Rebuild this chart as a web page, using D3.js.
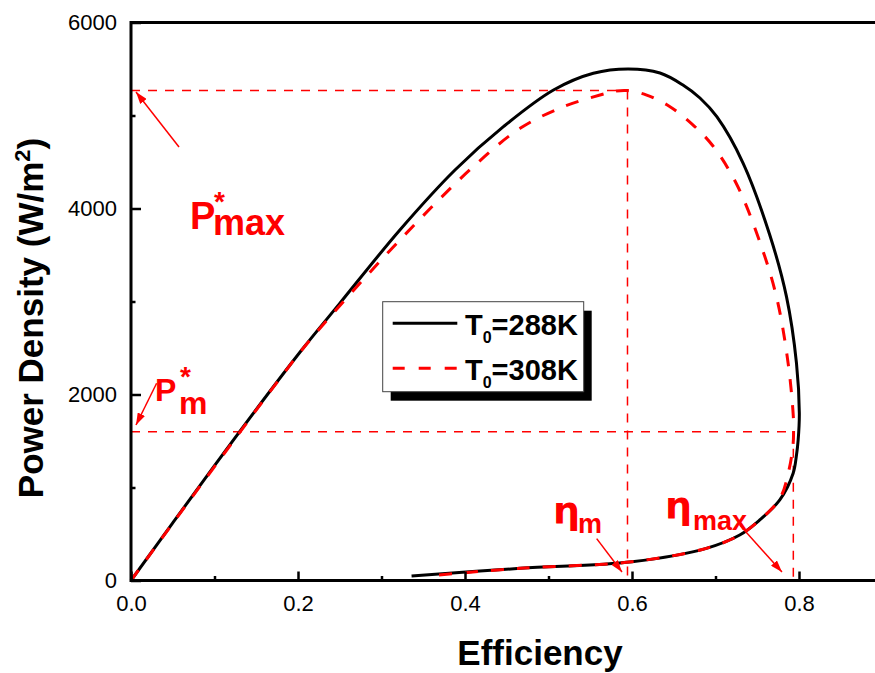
<!DOCTYPE html>
<html>
<head>
<meta charset="utf-8">
<script src="https://cdn.jsdelivr.net/npm/d3@7"></script>
<style>
  body { margin: 0; background: #fff; }
  svg { display: block; }
</style>
</head>
<body>
<svg id="chart" width="875" height="673"></svg>
<script>
// T0 = 288K curve (efficiency, power density W/m2)
const eta288 = [0, 0.05, 0.1, 0.15, 0.2044, 0.25, 0.322, 0.388, 0.446, 0.506, 0.5537, 0.5956, 0.6335, 0.661, 0.6814, 0.7018, 0.733, 0.765, 0.785, 0.797, 0.8004, 0.799, 0.797, 0.793, 0.777, 0.753, 0.729, 0.689, 0.6, 0.466, 0.336]
const power288 = [0, 620, 1235, 1840, 2478, 2980, 3769, 4414, 4880, 5274, 5454, 5500, 5457, 5328, 5188, 4984, 4489, 3715, 3052, 2335, 1798, 1511, 1350, 1153, 866, 651, 489, 346, 202, 131, 48]

// T0 = 308K curve
const eta308 = [0, 0.05, 0.1, 0.177, 0.2144, 0.322, 0.41, 0.466, 0.518, 0.5617, 0.58, 0.595, 0.6176, 0.6455, 0.6719, 0.697, 0.7246, 0.751, 0.773, 0.787, 0.7932, 0.7935, 0.793, 0.788, 0.777, 0.753, 0.729, 0.689, 0.6, 0.466, 0.362]
const power308 = [0, 615, 1225, 2156, 2586, 3661, 4450, 4862, 5095, 5220, 5262, 5268, 5220, 5095, 4908, 4672, 4274, 3694, 3052, 2335, 1761, 1600, 1475, 1188, 880, 651, 489, 346, 202, 131, 55]

// guide values
const pMaxStar = 5270
const pMStar = 1600
const etaM = 0.5946
const etaMax = 0.7932

// ticks
const xMajor = [0, 0.2, 0.4, 0.6, 0.8]
const xMinor = [0.1, 0.3, 0.5, 0.7]
const yMajor = [0, 2000, 4000, 6000]
const yMinor = [1000, 3000, 5000]

const red = '#ff0000'
const font = '"Liberation Sans", Arial, sans-serif'

const svg = d3.select('#chart')

const x = d3.scaleLinear().domain([0, 0.9]).range([131, 882.5])
const y = d3.scaleLinear().domain([0, 6000]).range([580.5, 22.5])

const defs = svg.append('defs')
defs
  .append('marker')
  .attr('id', 'arrow')
  .attr('viewBox', '0 0 12 8')
  .attr('refX', 12)
  .attr('refY', 4)
  .attr('markerWidth', 12)
  .attr('markerHeight', 8)
  .attr('markerUnits', 'userSpaceOnUse')
  .attr('orient', 'auto')
  .append('path')
  .attr('d', 'M0,0L12,4L0,8Z')
  .attr('fill', red)

// dashed guide lines
const guides = [
  [0, pMaxStar, etaM, pMaxStar],
  [etaM, pMaxStar, etaM, 0],
  [0, pMStar, etaMax, pMStar],
  [etaMax, pMStar, etaMax, 0],
]
svg
  .append('g')
  .selectAll('line')
  .data(guides)
  .join('line')
  .attr('x1', (d) => x(d[0]))
  .attr('y1', (d) => y(d[1]))
  .attr('x2', (d) => x(d[2]))
  .attr('y2', (d) => y(d[3]))
  .attr('stroke', red)
  .attr('stroke-width', 1.5)
  .attr('stroke-dasharray', '9,8')

// curves
const line = d3
  .line()
  .x((d) => x(d[0]))
  .y((d) => y(d[1]))
  .curve(d3.curveCatmullRom.alpha(0.5))

svg
  .append('path')
  .datum(d3.zip(eta288, power288))
  .attr('d', line)
  .attr('fill', 'none')
  .attr('stroke', '#000')
  .attr('stroke-width', 3)

svg
  .append('path')
  .datum(d3.zip(eta308, power308))
  .attr('d', line)
  .attr('fill', 'none')
  .attr('stroke', red)
  .attr('stroke-width', 3)
  .attr('stroke-dasharray', '13,13')

// frame
svg
  .append('rect')
  .attr('x', x(0))
  .attr('y', y(6000))
  .attr('width', x(0.9) - x(0))
  .attr('height', y(0) - y(6000))
  .attr('fill', 'none')
  .attr('stroke', '#000')
  .attr('stroke-width', 3)

// axes
const styleAxis = (g) => {
  g.select('.domain').remove()
  g.selectAll('line').attr('stroke', '#000').attr('stroke-width', 2.5)
  g.selectAll('text')
    .attr('fill', '#000')
    .style('font-family', font)
    .style('font-size', '22px')
}

svg
  .append('g')
  .attr('transform', `translate(0,${y(0)})`)
  .call(d3.axisBottom(x).tickValues(xMajor).tickSize(-9).tickPadding(15).tickFormat(d3.format('.1f')))
  .call(styleAxis)

svg
  .append('g')
  .attr('transform', `translate(0,${y(0)})`)
  .call(d3.axisBottom(x).tickValues(xMinor).tickSize(-4.5).tickFormat(''))
  .call(styleAxis)

svg
  .append('g')
  .attr('transform', `translate(${x(0)},0)`)
  .call(d3.axisLeft(y).tickValues(yMajor).tickSize(-10).tickPadding(14).tickFormat(d3.format('d')))
  .call(styleAxis)

svg
  .append('g')
  .attr('transform', `translate(${x(0)},0)`)
  .call(d3.axisLeft(y).tickValues(yMinor).tickSize(-4.5).tickFormat(''))
  .call(styleAxis)

// axis titles
svg
  .append('text')
  .attr('x', 540)
  .attr('y', 665)
  .attr('text-anchor', 'middle')
  .style('font-family', font)
  .style('font-size', '35px')
  .style('font-weight', 'bold')
  .text('Efficiency')

const yTitle = svg
  .append('text')
  .attr('transform', 'translate(43,318) rotate(-90)')
  .attr('text-anchor', 'middle')
  .style('font-family', font)
  .style('font-size', '35px')
  .style('font-weight', 'bold')
yTitle.append('tspan').text('Power Density (W/m')
yTitle.append('tspan').attr('dy', -13).style('font-size', '22px').text('2')
yTitle.append('tspan').attr('dy', 13).text(')')

// arrows [from eta, from P, to eta, to P]
const arrows = [
  [0.0575, 4661, 0.006, 5253],
  [0.0307, 2121, 0.006, 1672],
  [0.5577, 450, 0.588, 91],
  [0.729, 597, 0.7796, 91],
]
svg
  .append('g')
  .selectAll('line')
  .data(arrows)
  .join('line')
  .attr('x1', (d) => x(d[0]))
  .attr('y1', (d) => y(d[1]))
  .attr('x2', (d) => x(d[2]))
  .attr('y2', (d) => y(d[3]))
  .attr('stroke', red)
  .attr('stroke-width', 1.5)
  .attr('marker-end', 'url(#arrow)')

// annotation labels: main glyph with stacked superscript and subscript, one text each
const label = (eta, p, main, mainSize, sup, subText, subSize, subDx, subDy, supDy, family) => {
  const t = svg
    .append('text')
    .attr('x', x(eta))
    .attr('y', y(p))
    .attr('fill', red)
    .style('font-family', font)
    .style('font-weight', 'bold')
  t.append('tspan')
    .style('font-family', family || font)
    .style('font-size', mainSize + 'px')
    .text(main)
  if (sup) {
    t.append('tspan')
      .attr('x', x(eta) + subDx + 1)
      .attr('y', y(p) + supDy)
      .style('font-size', '28px')
      .text(sup)
  }
  t.append('tspan')
    .attr('x', x(eta) + subDx)
    .attr('y', y(p) + subDy)
    .style('font-size', subSize + 'px')
    .text(subText)
}

label(0.0707, 3780, 'P', 38, '*', 'max', 36, 23, 6, -18)
label(0.0287, 1935, 'P', 32, '*', 'm', 32, 24, 13, -15)
label(0.5054, 618, 'η', 38, null, 'm', 27, 25, 10, 0, '"DejaVu Sans", sans-serif')
label(0.6395, 672, 'η', 38, null, 'max', 27, 28, 12, 0, '"DejaVu Sans", sans-serif')

// legend
const legend = svg.append('g').attr('transform', 'translate(382.7,301.7)')
legend.append('rect').attr('x', 8).attr('y', 9).attr('width', 201).attr('height', 90).attr('fill', '#000')
legend
  .append('rect')
  .attr('width', 201)
  .attr('height', 90)
  .attr('fill', '#fff')
  .attr('stroke', '#444')
  .attr('stroke-width', 1)

const legendItems = [
  { name: '288K', color: '#000', dash: null },
  { name: '308K', color: red, dash: '12,14' },
]
legendItems.forEach((item, i) => {
  const yy = 21.6 + i * 45
  legend
    .append('line')
    .attr('x1', 10)
    .attr('x2', 74.6)
    .attr('y1', yy)
    .attr('y2', yy)
    .attr('stroke', item.color)
    .attr('stroke-width', 3)
    .attr('stroke-dasharray', item.dash)
  const t = legend
    .append('text')
    .attr('x', 82.3)
    .attr('y', yy + 11.7)
    .style('font-family', font)
    .style('font-size', '29px')
    .style('font-weight', 'bold')
  t.append('tspan').text('T')
  t.append('tspan').attr('dy', 8).style('font-size', '16px').text('0')
  t.append('tspan').attr('dy', -8).text('=' + item.name)
})
</script>
</body>
</html>
